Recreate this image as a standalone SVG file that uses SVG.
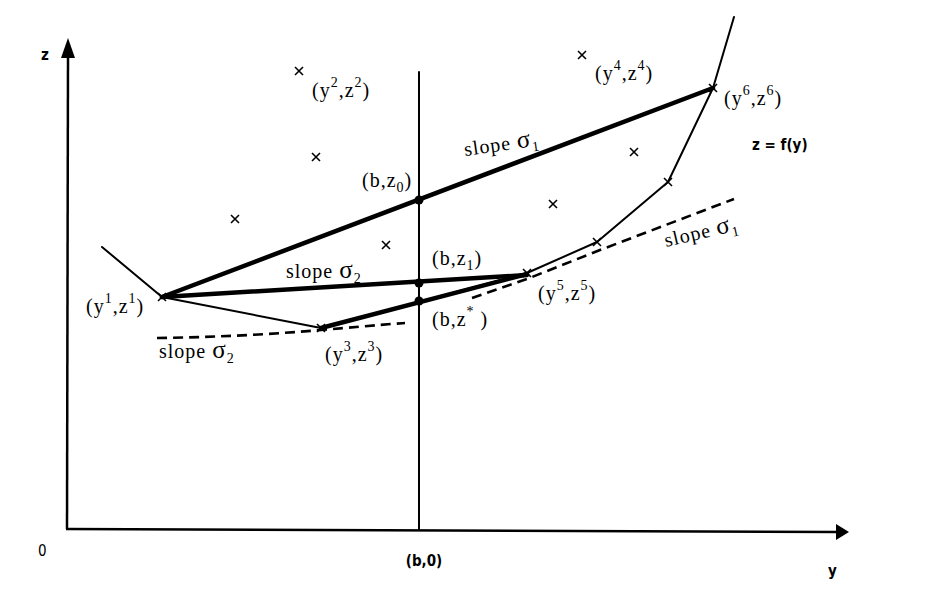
<svg xmlns="http://www.w3.org/2000/svg" width="925" height="608" viewBox="0 0 925 608">
<defs>
<style>
.lbl{font-family:"Liberation Serif","Times New Roman",serif;font-size:20px;letter-spacing:1px;fill:#000}
.sans{font-family:"DejaVu Sans Condensed","Liberation Sans",sans-serif;font-size:15px;fill:#000}
.thin{fill:none;stroke:#000;stroke-width:2;stroke-linejoin:round;stroke-linecap:round}
.thick{fill:none;stroke:#000;stroke-width:4.5;stroke-linecap:round}
.dash{fill:none;stroke:#000;stroke-width:2.6;stroke-dasharray:10 6}
.axis{fill:none;stroke:#000;stroke-width:2.5}
.mk{stroke:#000;stroke-width:1.6;fill:none}
.sup{font-size:14px}
.sig{font-size:25px}
</style>
<path id="x" d="M-4,-4L4,4M-4,4L4,-4" class="mk"/>
</defs>
<rect width="925" height="608" fill="#fff"/>

<g id="axes">
<path class="axis" d="M66,529L836,532"/>
<path d="M836,524L849,532L836,540Z" fill="#000"/>
<path class="axis" d="M67,529L68,56"/>
<path d="M61,58L68,38L75,58Z" fill="#000"/>
<text class="sans" x="41" y="60" font-weight="bold" font-size="16">z</text>
<text class="sans" x="38" y="556">0</text>
<text class="sans" x="424" y="566" text-anchor="middle" font-weight="bold">(b,0)</text>
<text class="sans" x="828" y="576" font-weight="bold">y</text>
</g>

<g id="connectors">
<path id="vline" class="thin" d="M419,72L419,529"/>
<path id="curve-f" class="thin" d="M102,247L162,297L321,328L527,273L597,242L668,182L713,88L734,17"/>
<path id="chord-1-6" class="thick" stroke-width="6" d="M162,297L713,88"/>
<path id="chord-1-5" class="thick" stroke-width="4.5" d="M162,297L527,275"/>
<path id="chord-3-5" class="thick" stroke-width="5" d="M321,328L527,274"/>
<path id="tangent-2" class="dash" d="M157,338Q240,337 321,330T405,323"/>
<path id="tangent-1" class="dash" d="M472,298L527,279L600,250L734,199"/>
</g>

<g id="points">
<g id="p1"><use href="#x" x="162" y="297"/><text class="lbl" x="86" y="313">(y<tspan class="sup" dy="-10">1</tspan><tspan dy="10">,z</tspan><tspan class="sup" dy="-10">1</tspan><tspan dy="10">)</tspan></text></g>
<g id="p2"><use href="#x" x="299" y="71"/><text class="lbl" x="312" y="97">(y<tspan class="sup" dy="-10">2</tspan><tspan dy="10">,z</tspan><tspan class="sup" dy="-10">2</tspan><tspan dy="10">)</tspan></text></g>
<g id="p3"><use href="#x" x="321" y="328"/><text class="lbl" x="325" y="361">(y<tspan class="sup" dy="-10">3</tspan><tspan dy="10">,z</tspan><tspan class="sup" dy="-10">3</tspan><tspan dy="10">)</tspan></text></g>
<g id="p4"><use href="#x" x="582" y="55"/><text class="lbl" x="595" y="80">(y<tspan class="sup" dy="-10">4</tspan><tspan dy="10">,z</tspan><tspan class="sup" dy="-10">4</tspan><tspan dy="10">)</tspan></text></g>
<g id="p5"><use href="#x" x="527" y="273"/><text class="lbl" x="538" y="300">(y<tspan class="sup" dy="-10">5</tspan><tspan dy="10">,z</tspan><tspan class="sup" dy="-10">5</tspan><tspan dy="10">)</tspan></text></g>
<g id="p6"><use href="#x" x="713" y="88"/><text class="lbl" x="724" y="105">(y<tspan class="sup" dy="-10">6</tspan><tspan dy="10">,z</tspan><tspan class="sup" dy="-10">6</tspan><tspan dy="10">)</tspan></text></g>
<g id="others">
<use href="#x" x="316" y="157"/>
<use href="#x" x="235" y="219"/>
<use href="#x" x="386" y="245"/>
<use href="#x" x="634" y="152"/>
<use href="#x" x="553" y="204"/>
<use href="#x" x="597" y="242"/>
<use href="#x" x="668" y="182"/>
</g>
<g id="bz0"><circle cx="419" cy="200" r="4.5"/><text class="lbl" x="362" y="187">(b,z<tspan class="sup" dy="5">0</tspan><tspan dy="-5">)</tspan></text></g>
<g id="bz1"><circle cx="419" cy="283" r="4.5"/><text class="lbl" x="432" y="265">(b,z<tspan class="sup" dy="5">1</tspan><tspan dy="-5">)</tspan></text></g>
<g id="bzs"><circle cx="419" cy="301" r="4.5"/><text class="lbl" x="432" y="326">(b,z<tspan class="sup" dy="-10">*</tspan><tspan dy="10"> )</tspan></text></g>
</g>

<g id="labels">
<text class="lbl" transform="translate(465,156) rotate(-8)">slope <tspan class="sig">σ</tspan><tspan class="sup" dy="5">1</tspan></text>
<text class="lbl" x="286" y="278">slope <tspan class="sig">σ</tspan><tspan class="sup" dy="5">2</tspan></text>
<text class="lbl" x="159" y="358">slope <tspan class="sig">σ</tspan><tspan class="sup" dy="5">2</tspan></text>
<text class="lbl" transform="translate(666,247) rotate(-13)">slope <tspan class="sig">σ</tspan><tspan class="sup" dy="5">1</tspan></text>
<text class="sans" x="752" y="150" font-size="12" font-weight="bold">z = f(y)</text>
</g>
</svg>
